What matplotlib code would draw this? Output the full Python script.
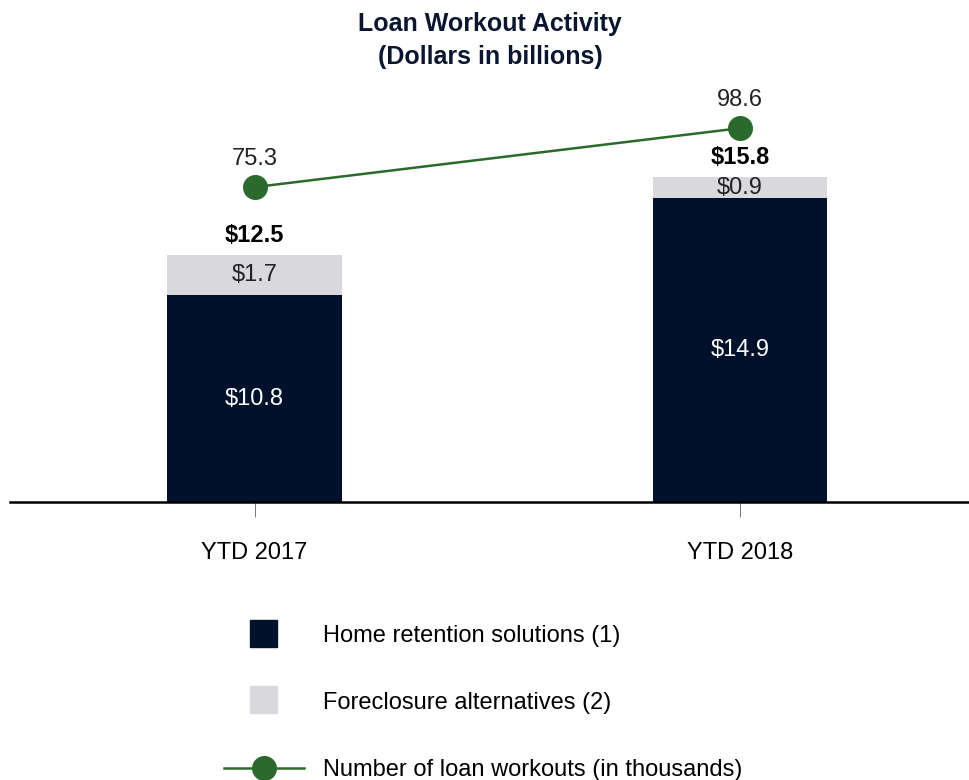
import matplotlib
matplotlib.use("Agg")
import matplotlib.pyplot as plt
from matplotlib.patches import Rectangle
from matplotlib.lines import Line2D

plt.rcParams['font.family'] = ['Liberation Sans', 'DejaVu Sans']

categories = ["YTD 2017", "YTD 2018"]
home_retention = [10.8, 14.9]
foreclosure_alt = [1.7, 0.9]
totals = [12.5, 15.8]
workouts = [75.3, 98.6]
legend_labels = ["Home retention solutions (1)", "Foreclosure alternatives (2)",
                 "Number of loan workouts (in thousands)"]

NAVY = "#00112c"
LIGHT = "#d9d8dd"
GREEN = "#2a6b2d"

fig = plt.figure(figsize=(9.7, 7.8), dpi=100)
ax = fig.add_axes([10/970, (780-502)/780, 960/970, (502-90)/780])

x = list(range(len(categories)))
w = 0.36
ymin, ymax = 2.03, 19.49
ax.set_ylim(ymin, ymax)
ax.set_xlim(-0.5036, 1.4737)

ax.bar(x, home_retention, width=w, color=NAVY, zorder=2)
ax.bar(x, foreclosure_alt, width=w, bottom=home_retention, color=LIGHT, zorder=2)

for i in x:
    ax.text(i, (max(ymin, 0) + home_retention[i]) / 2, f"${home_retention[i]}",
            ha='center', va='center', color='white', fontsize=17)
    ax.text(i, home_retention[i] + foreclosure_alt[i] / 2, f"${foreclosure_alt[i]}",
            ha='center', va='center', color='#222222', fontsize=17)
    ax.annotate(f"${totals[i]}", (i, totals[i]), xytext=(0, 14), textcoords='offset points',
                ha='center', va='center', fontsize=17, fontweight='bold', color='black')

for s in ['top', 'right', 'left']:
    ax.spines[s].set_visible(False)
ax.spines['bottom'].set_linewidth(1.8)
ax.spines['bottom'].set_color('black')
ax.set_yticks([])
ax.set_xticks(x)
ax.set_xticklabels(categories, fontsize=17)
ax.tick_params(axis='x', length=11, width=0.7, color='#777777', pad=18)

ax2 = ax.twinx()
ax2.set_ylim(-49.2, 113.7)
ax2.axis('off')
ax2.plot(x, workouts, color=GREEN, linewidth=1.8, marker='o', markersize=17, zorder=3)
for i in x:
    ax2.annotate(f"{workouts[i]}", (i, workouts[i]), xytext=(0, 20), textcoords='offset points',
                 ha='center', va='center', fontsize=17, color='#222222')

fig.text(490/970, 1 - 24/780, "Loan Workout Activity", ha='center', va='center',
         fontsize=18, fontweight='bold', color='#0a1530')
fig.text(490/970, 1 - 57/780, "(Dollars in billions)", ha='center', va='center',
         fontsize=18, fontweight='bold', color='#0a1530')

# Legend
def fy(p):
    return 1 - p / 780
def fx(p):
    return p / 970

fig.patches.append(Rectangle((fx(250), fy(647)), fx(27), 27/780, color=NAVY, transform=fig.transFigure))
fig.patches.append(Rectangle((fx(250), fy(713)), fx(27), 27/780, color=LIGHT, transform=fig.transFigure))
fig.lines.append(Line2D([fx(224), fx(304)], [fy(768), fy(768)], color=GREEN, linewidth=1.8,
                        transform=fig.transFigure))
fig.lines.append(Line2D([fx(264)], [fy(768)], color=GREEN, marker='o', markersize=17,
                        transform=fig.transFigure))
for yy, lab in zip([636, 703, 770], legend_labels):
    fig.text(fx(323), fy(yy), lab, ha='left', va='center', fontsize=17, color='black')

fig.savefig("out.png", dpi=100)
